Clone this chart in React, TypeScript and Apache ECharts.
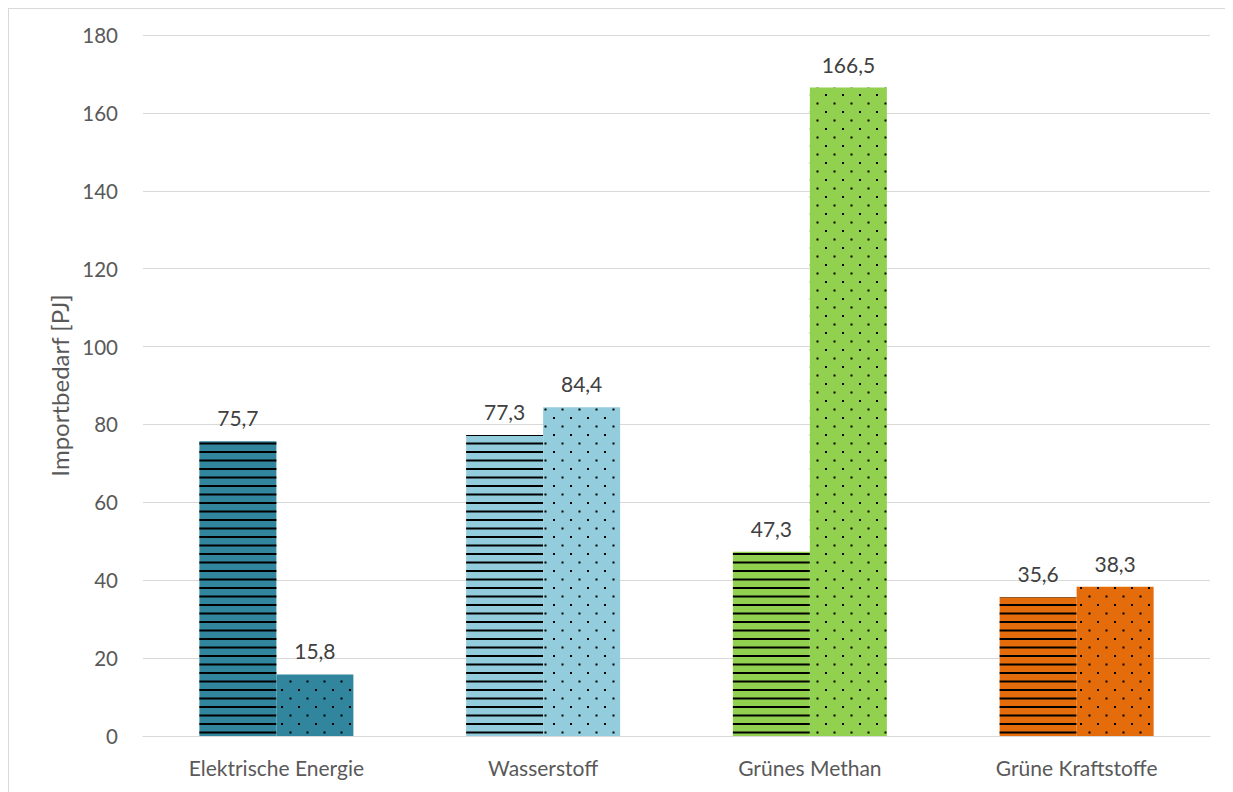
import React, { useEffect, useRef } from "react";
import * as echarts from "echarts";

const categories = ["Elektrische Energie", "Wasserstoff", "Grünes Methan", "Grüne Kraftstoffe"];
const seriesA = [75.7, 77.3, 47.3, 35.6];
const seriesB = [15.8, 84.4, 166.5, 38.3];
const colors = ["#31859C", "#93CDDD", "#92D050", "#E46C0A"];
const yTicks = { min: 0, max: 180, interval: 20 };
const yAxisName = "Importbedarf [PJ]";

const FONT = "Lato, 'Open Sans', sans-serif";

const linesDecal = {
  symbol: "path://M0 0L17 0L17 2L0 2Z M0 8.5L17 8.5L17 10.5L0 10.5Z M17 17L17 17",
  symbolSize: 1,
  symbolKeepAspect: false,
  color: "#000000",
  dashArrayX: [17, 0],
  dashArrayY: [17, 0],
};

const dotsDecal = {
  symbol: "path://M0 0L2 0L2 2L0 2Z M8.5 8.5L10.5 8.5L10.5 10.5L8.5 10.5Z M17 17L17 17",
  symbolSize: 1,
  symbolKeepAspect: false,
  color: "#000000",
  dashArrayX: [17, 0],
  dashArrayY: [17, 0],
};

const fmt = (v: number) => v.toFixed(1).replace(".", ",");

export default function App() {
  const ref = useRef<HTMLDivElement>(null);
  useEffect(() => {
    if (!ref.current) return;
    const chart = echarts.init(ref.current, undefined, { renderer: "svg" });
    const mk = (vals: number[], decal: any) =>
      vals.map((v, i) => ({ value: v, itemStyle: { color: colors[i], decal } }));
    const label = {
      show: true,
      position: "top" as const,
      distance: 13,
      color: "#404040",
      fontSize: 21,
      fontFamily: FONT,
      formatter: (p: any) => fmt(p.value),
    };
    chart.setOption({
      animation: false,
      grid: { left: 134, top: 26, right: 23, bottom: 56, containLabel: false },
      xAxis: {
        type: "category",
        data: categories,
        axisLine: { show: true, lineStyle: { color: "#D9D9D9", width: 1 } },
        axisTick: { show: false },
        axisLabel: { color: "#595959", fontSize: 21, fontFamily: FONT, margin: 21 },
      },
      yAxis: {
        type: "value",
        min: yTicks.min,
        max: yTicks.max,
        interval: yTicks.interval,
        name: yAxisName,
        nameLocation: "middle",
        nameGap: 69,
        nameTextStyle: { color: "#595959", fontSize: 24, fontFamily: FONT },
        axisLine: { show: false },
        axisTick: { show: false },
        axisLabel: { color: "#595959", fontSize: 20.5, fontFamily: FONT, margin: 25 },
        splitLine: { lineStyle: { color: "#D9D9D9", width: 1 } },
      },
      series: [
        { type: "bar", data: mk(seriesA, linesDecal), barWidth: 77, barGap: "0%", label },
        { type: "bar", data: mk(seriesB, dotsDecal), barWidth: 77, barGap: "0%", label },
      ],
    });
    return () => chart.dispose();
  }, []);
  return (
    <div
      style={{
        width: 1225,
        height: 784,
        borderLeft: "1px solid #D9D9D9",
        borderTop: "1px solid #D9D9D9",
        boxSizing: "border-box",
        background: "#fff",
      }}
    >
      <div ref={ref} style={{ width: 1224, height: 783 }} />
    </div>
  );
}
